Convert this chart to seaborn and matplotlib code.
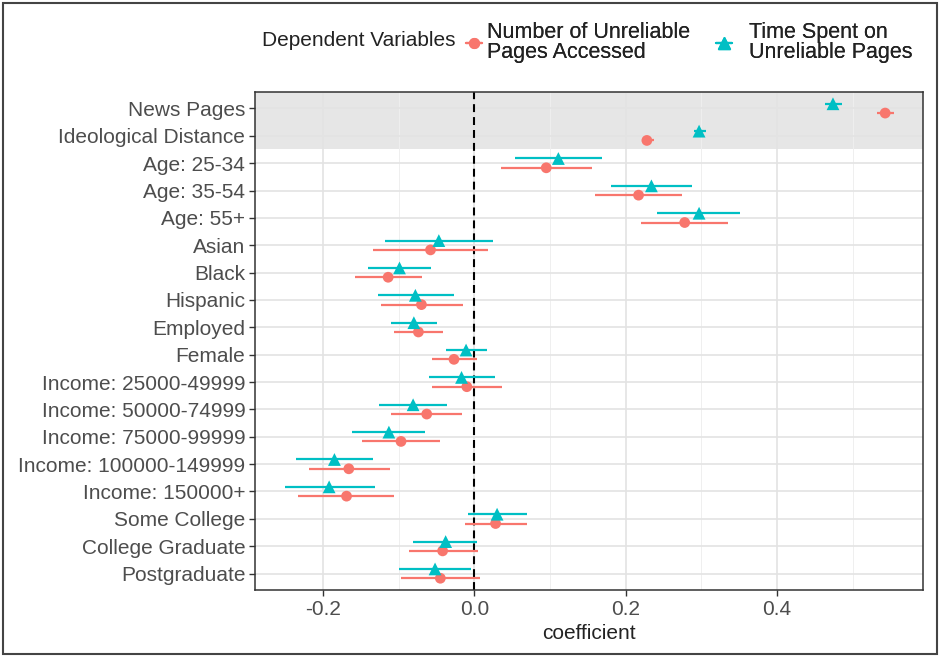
import numpy as np
import pandas as pd
import matplotlib
matplotlib.use("Agg")
import matplotlib.pyplot as plt
import seaborn as sns
from matplotlib.lines import Line2D
from matplotlib.patches import Rectangle

variables = ["News Pages", "Ideological Distance", "Age: 25-34", "Age: 35-54", "Age: 55+",
             "Asian", "Black", "Hispanic", "Employed", "Female",
             "Income: 25000-49999", "Income: 50000-74999", "Income: 75000-99999",
             "Income: 100000-149999", "Income: 150000+",
             "Some College", "College Graduate", "Postgraduate"]

num_est = [0.543, 0.228, 0.095, 0.217, 0.278, -0.058, -0.114, -0.070, -0.074, -0.027,
           -0.010, -0.063, -0.097, -0.166, -0.169, 0.028, -0.042, -0.045]
num_lo = [0.532, 0.221, 0.035, 0.160, 0.220, -0.134, -0.158, -0.124, -0.106, -0.056,
          -0.056, -0.110, -0.148, -0.219, -0.233, -0.013, -0.087, -0.097]
num_hi = [0.555, 0.237, 0.156, 0.274, 0.335, 0.018, -0.069, -0.015, -0.041, 0.004,
          0.036, -0.016, -0.046, -0.112, -0.106, 0.070, 0.005, 0.008]

time_est = [0.474, 0.297, 0.111, 0.234, 0.297, -0.047, -0.099, -0.078, -0.080, -0.011,
            -0.017, -0.081, -0.113, -0.185, -0.192, 0.030, -0.038, -0.052]
time_lo = [0.464, 0.290, 0.054, 0.181, 0.242, -0.118, -0.140, -0.128, -0.110, -0.038,
           -0.060, -0.126, -0.162, -0.236, -0.251, -0.008, -0.081, -0.100]
time_hi = [0.486, 0.306, 0.169, 0.288, 0.351, 0.024, -0.057, -0.027, -0.049, 0.017,
           0.027, -0.036, -0.065, -0.134, -0.131, 0.069, 0.004, -0.004]

dv_labels = ["Number of Unreliable\nPages Accessed", "Time Spent on\nUnreliable Pages"]
legend_title = "Dependent Variables"
x_ticks = [-0.2, 0.0, 0.2, 0.4]
x_ticklabels = ["-0.2", "0.0", "0.2", "0.4"]

RED = "#F8766D"
TEAL = "#00BFC4"
TXT = "#4D4D4D"

sns.set_theme(style="white")
plt.rcParams["font.family"] = ["Liberation Sans", "DejaVu Sans"]

idx = np.arange(len(variables))
dodge = 0.17
df = pd.concat([
    pd.DataFrame({"var": variables, "ypos": idx + dodge, "est": num_est, "lo": num_lo,
                  "hi": num_hi, "dv": "num"}),
    pd.DataFrame({"var": variables, "ypos": idx - dodge, "est": time_est, "lo": time_lo,
                  "hi": time_hi, "dv": "time"}),
])

fig = plt.figure(figsize=(9.4, 6.57), dpi=100)
ax = fig.add_axes([255 / 940, 1 - 590 / 657, 668 / 940, 498 / 657])

ax.set_facecolor("white")
ax.axhspan(-0.6, 1.5, color="#E6E6E6", zorder=0, lw=0)

# grid
for t in [-0.2, 0.0, 0.2, 0.4]:
    ax.axvline(t, color="#E3E3E3", lw=1.2, zorder=0.5)
for t in [-0.1, 0.1, 0.3, 0.5]:
    ax.axvline(t, color="#EFEFEF", lw=0.7, zorder=0.5)
for i in idx:
    ax.axhline(i, color="#E3E3E3", lw=1.2, zorder=0.5)

palette = {"num": RED, "time": TEAL}
for dv, sub in df.groupby("dv"):
    ax.hlines(sub["ypos"], sub["lo"], sub["hi"], color=palette[dv], lw=1.6, zorder=2)

sns.scatterplot(data=df, x="est", y="ypos", hue="dv", style="dv", size="dv",
                palette=palette, markers={"num": "o", "time": "^"},
                sizes={"num": 60, "time": 85}, linewidth=0, legend=False,
                ax=ax, zorder=3)

ax.axvline(0, color="black", lw=1.5, ls=(0, (3.8, 2.4)), zorder=1.5)

ax.set_xlim(-0.29, 0.593)
ax.set_ylim(17.6, -0.6)
ax.set_yticks(idx)
ax.set_yticklabels(variables)
ax.set_xticks(x_ticks)
ax.set_xticklabels(x_ticklabels)
ax.set_xlabel("coefficient", fontsize=15, color="#222222", labelpad=4)
ax.set_ylabel("")
ax.tick_params(axis="both", labelsize=15, labelcolor=TXT, color="#333333",
               length=4, width=1, direction="out", pad=3, left=True, bottom=True)
for sp in ax.spines.values():
    sp.set_visible(True)
    sp.set_color("#333333")
    sp.set_linewidth(1.1)

# legend
fig.text(262 / 940, 1 - 41 / 657, legend_title, fontsize=15, color="#222222",
         va="center", ha="left")
handles = [
    Line2D([0, 1], [0, 0], color=RED, lw=1.6, marker="o", markersize=7),
    Line2D([0, 1], [0, 0], color=TEAL, lw=1.6, marker="^", markersize=8.5),
]
for h, lab, x0, pad in [(handles[0], dv_labels[0], 466, 0.24),
                        (handles[1], dv_labels[1], 716, 0.8)]:
    leg = fig.legend([h], [lab], loc="center left",
                     bbox_to_anchor=(x0 / 940, 1 - 42.5 / 657), frameon=False,
                     fontsize=15.5, handlelength=0.75, handletextpad=pad,
                     borderpad=0, borderaxespad=0, labelspacing=0)
    for t in leg.get_texts():
        t.set_color("#222222")
        t.set_linespacing(0.95)
    fig.add_artist(leg)

# outer frame
fig.patches.append(Rectangle((0.003, 0.004), 0.994, 0.992, transform=fig.transFigure,
                             fill=False, edgecolor="#444444", lw=1.5))

fig.savefig("out.png", dpi=100)
